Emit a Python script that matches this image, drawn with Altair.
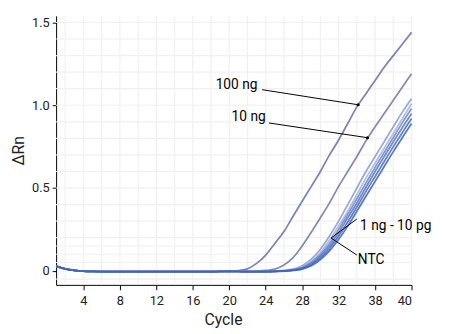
import altair as alt
import pandas as pd

cycles = list(range(1, 41))

# common early baseline (cycles 1-20)
baseline_early = [0.028, 0.012, 0.003, -0.002, -0.004, -0.005, -0.005, -0.005, -0.005, -0.005,
                  -0.005, -0.005, -0.005, -0.005, -0.005, -0.005, -0.005, -0.005, -0.004, -0.003]

# cycles 21-40
rise_100ng = [0.001, 0.012, 0.045, 0.095, 0.165, 0.237, 0.33, 0.42, 0.51, 0.60,
              0.70, 0.79, 0.89, 0.99, 1.07, 1.15, 1.23, 1.30, 1.37, 1.44]
rise_10ng = [-0.004, -0.004, -0.002, 0.002, 0.01, 0.035, 0.08, 0.15, 0.233, 0.32,
             0.41, 0.51, 0.60, 0.69, 0.785, 0.87, 0.95, 1.03, 1.11, 1.19]
rise_a = [-0.004, -0.005, -0.005, -0.004, -0.002, 0.002, 0.01, 0.03, 0.07, 0.13,
          0.21, 0.30, 0.40, 0.50, 0.60, 0.69, 0.78, 0.87, 0.96, 1.04]
rise_b = [-0.004, -0.005, -0.005, -0.004, -0.003, 0.001, 0.007, 0.024, 0.058, 0.11,
          0.185, 0.27, 0.36, 0.46, 0.56, 0.65, 0.74, 0.83, 0.92, 1.01]
rise_c = [-0.004, -0.005, -0.005, -0.005, -0.003, 0.0, 0.005, 0.02, 0.05, 0.098,
          0.165, 0.25, 0.34, 0.435, 0.53, 0.625, 0.715, 0.805, 0.895, 0.98]
rise_d = [-0.004, -0.005, -0.005, -0.005, -0.004, -0.001, 0.004, 0.016, 0.043, 0.088,
          0.15, 0.23, 0.32, 0.41, 0.505, 0.60, 0.69, 0.78, 0.865, 0.95]
rise_e = [-0.004, -0.005, -0.005, -0.005, -0.004, -0.001, 0.003, 0.013, 0.037, 0.078,
          0.135, 0.21, 0.295, 0.385, 0.48, 0.57, 0.66, 0.75, 0.835, 0.92]
rise_f = [-0.004, -0.005, -0.005, -0.005, -0.004, -0.002, 0.002, 0.01, 0.03, 0.068,
          0.12, 0.19, 0.27, 0.36, 0.45, 0.54, 0.63, 0.72, 0.805, 0.89]

series_names = ["100 ng", "10 ng", "1 ng a", "1 ng b", "100 pg", "10 pg a", "10 pg b", "NTC"]
series_rise = [rise_100ng, rise_10ng, rise_a, rise_b, rise_c, rise_d, rise_e, rise_f]
series_colors = ["#6571a6", "#6e78a6", "#8a9ad0", "#a3b3df", "#7088cc", "#5a78c6", "#4a6cc2", "#3f62b8"]

rows = []
for name, rise in zip(series_names, series_rise):
    vals = baseline_early + rise
    for c, v in zip(cycles, vals):
        rows.append({"cycle": c, "drn": v, "series": name})
df = pd.DataFrame(rows)

grid_x = list(range(2, 41, 2))
grid_y = [-0.05, 0.05, 0.1, 0.15, 0.2, 0.3, 0.4, 0.5, 0.6, 0.7, 0.8, 0.9, 1.0, 1.1, 1.2, 1.3, 1.4, 1.5]

x_ticks = [4, 8, 12, 16, 20, 24, 28, 32, 36, 40]
y_ticks = [0, 0.5, 1.0, 1.5]

# annotations (data coordinates)
label_text = ["100 ng", "10 ng", "1 ng - 10 pg", "NTC"]
label_cycle = [23.1, 24.0, 34.35, 34.1]
label_drn = [1.10, 0.902, 0.249, 0.04]
label_align = ["right", "right", "left", "left"]

lead_x1 = [23.6, 24.35, 34.0, 34.0]
lead_y1 = [1.094, 0.893, 0.313, 0.095]
lead_x2 = [34.14, 35.16, 31.17, 31.17]
lead_y2 = [1.003, 0.804, 0.198, 0.198]

dot_x = [34.14, 35.16]
dot_y = [1.003, 0.804]

FONT = "Roboto, Liberation Sans, sans-serif"

xscale = alt.Scale(domain=[1, 40], nice=False, zero=False)
yscale = alt.Scale(domain=[-0.085, 1.54], nice=False, zero=False)

xaxis = alt.Axis(values=x_ticks, title="Cycle", grid=False,
                 labelExpr="datum.value == 36 ? '38' : datum.label",
                 titleX=170, titleY=27, labelPadding=5)
yaxis = alt.Axis(values=y_ticks, title="ΔRn", grid=False,
                 labelExpr="datum.value == 0 ? '0' : format(datum.value, '.1f')",
                 titleX=-30, labelPadding=3, tickSize=4)

gx = alt.Chart(pd.DataFrame({"g": grid_x})).mark_rule(color="#f0f0f0", strokeWidth=1.2).encode(
    x=alt.X("g:Q", scale=xscale, axis=xaxis))
gy = alt.Chart(pd.DataFrame({"g": grid_y})).mark_rule(color="#f0f0f0", strokeWidth=1.2).encode(
    y=alt.Y("g:Q", scale=yscale, axis=yaxis))

lines = alt.Chart(df).mark_line(interpolate="monotone", strokeWidth=1.8, opacity=0.85).encode(
    x=alt.X("cycle:Q", scale=xscale, axis=xaxis),
    y=alt.Y("drn:Q", scale=yscale, axis=yaxis),
    color=alt.Color("series:N", scale=alt.Scale(domain=series_names, range=series_colors), legend=None),
    detail="series:N",
)

lead_df = pd.DataFrame({"x1": lead_x1, "y1": lead_y1, "x2": lead_x2, "y2": lead_y2})
leads = alt.Chart(lead_df).mark_rule(color="black", strokeWidth=1).encode(
    x=alt.X("x1:Q", scale=xscale), y=alt.Y("y1:Q", scale=yscale), x2="x2:Q", y2="y2:Q")

dots = alt.Chart(pd.DataFrame({"x": dot_x, "y": dot_y})).mark_circle(color="black", size=10, opacity=1).encode(
    x=alt.X("x:Q", scale=xscale), y=alt.Y("y:Q", scale=yscale))

lab_df = pd.DataFrame({"t": label_text, "x": label_cycle, "y": label_drn, "a": label_align})
labels_r = alt.Chart(lab_df[lab_df.a == "right"]).mark_text(
    align="right", baseline="alphabetic", font=FONT, fontSize=14, color="black").encode(
    x=alt.X("x:Q", scale=xscale), y=alt.Y("y:Q", scale=yscale), text="t:N")
labels_l = alt.Chart(lab_df[lab_df.a == "left"]).mark_text(
    align="left", baseline="alphabetic", font=FONT, fontSize=14, color="black").encode(
    x=alt.X("x:Q", scale=xscale), y=alt.Y("y:Q", scale=yscale), text="t:N")

chart = alt.layer(gx, gy, lines, leads, dots, labels_r, labels_l).properties(
    width=362, height=274,
    autosize=alt.AutoSizeParams(type="none"),
    padding={"left": 49, "top": 5, "right": 30, "bottom": 45},
).configure_view(stroke=None).configure_axis(
    domainColor="black", domainWidth=1, tickColor="black", tickSize=5, tickWidth=1,
    labelFont=FONT, labelFontSize=13, labelColor="#222222",
    titleFont=FONT, titleFontSize=16, titleFontWeight="normal", titleColor="#222222",
)

chart.save("out.html", embed_options={"renderer": "svg", "actions": False})
